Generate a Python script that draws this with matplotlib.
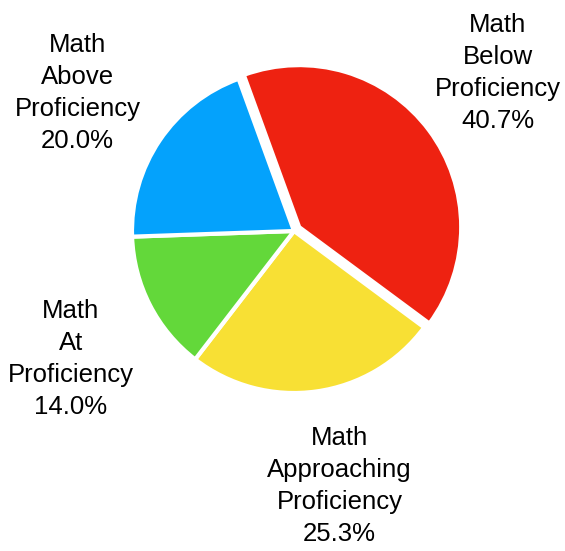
import matplotlib
matplotlib.use('Agg')
import matplotlib.pyplot as plt

labels = ['Math\nBelow\nProficiency', 'Math\nApproaching\nProficiency',
          'Math\nAt\nProficiency', 'Math\nAbove\nProficiency']
values = [40.7, 25.3, 14.0, 20.0]
colors = ['#EE2211', '#F8E034', '#63D83A', '#04A2FC']
explode = [0.04, 0, 0, 0]
# small label nudges in pixels (right, down)
nudge = [(-8, 0), (10, 0), (6, 10), (-3, 6)]

plt.rcParams['font.family'] = ['Liberation Sans', 'DejaVu Sans']

fig = plt.figure(figsize=(5.65, 5.51), dpi=100)
ax = fig.add_axes([0, 0, 1, 1])

texts = ax.pie(values, colors=colors, explode=explode, startangle=110,
               counterclock=False,
               labels=[f'{l}\n{v:.1f}%' for l, v in zip(labels, values)],
               labeldistance=1.59,
               wedgeprops=dict(edgecolor='white', linewidth=3),
               textprops=dict(fontsize=18.5, color='black'))[1]

# pie centre at (294, 231) px, radius 162 px
r = 162.0
for t, (dx, dy) in zip(texts, nudge):
    t.set_ha('center')
    t.set_va('center')
    t.set_linespacing(1.42)
    x, y = t.get_position()
    t.set_position((x + dx / r, y - dy / r))

ax.set_xlim(-294 / r, (565 - 294) / r)
ax.set_ylim(-(551 - 231) / r, 231 / r)
ax.axis('off')

fig.savefig('out.png', dpi=100)
